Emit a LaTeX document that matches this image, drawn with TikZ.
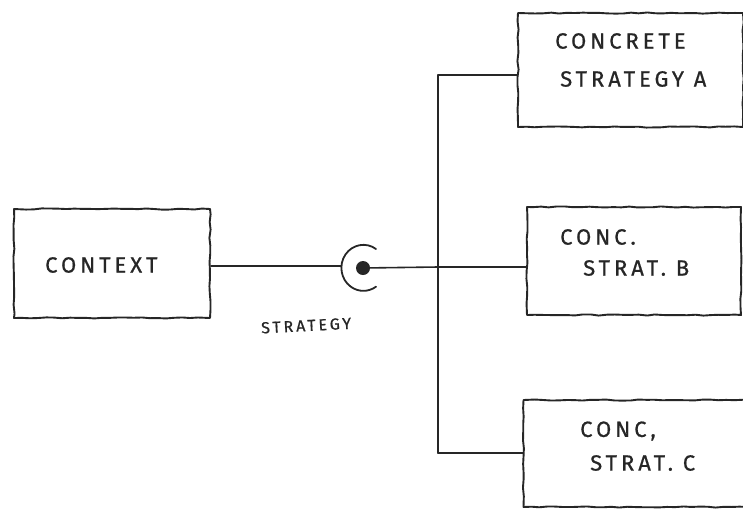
\documentclass[tikz,border=0pt]{standalone}
\usepackage{fontspec}
\newfontfamily\handfont[LetterSpace=18, FakeBold=0.8]{Fira Sans}
\usetikzlibrary{decorations.pathmorphing}
\begin{document}
\begin{tikzpicture}[x=1pt,y=-1pt,
  ink/.style={draw=black!85, line cap=round, line join=round},
  box/.style={ink, line width=1.9pt, rectangle, inner sep=0pt,
    decorate, decoration={random steps, segment length=8pt, amplitude=0.6pt}},
  wire/.style={ink, line width=1.6pt},
  hand/.style={font=\handfont\fontsize{22}{26}\selectfont, text=black!85,
    inner sep=0pt, anchor=west},
  smallhand/.style={hand, font=\handfont\fontsize{16}{19}\selectfont}]
\pgfmathsetseed{7}
\useasboundingbox (0,0) rectangle (743,512);

% boxes
\node[box, minimum width=196pt, minimum height=109pt] (ctx) at (112,263.5) {};
\node[box, minimum width=225pt, minimum height=114pt] (boxA) at (630.5,70) {};
\node[box, minimum width=214pt, minimum height=108pt] (boxB) at (634,261) {};
\node[box, minimum width=235pt, minimum height=107pt] (boxC) at (641,453.5) {};

% box texts
\node[hand] (tctx) at (45,265) {CONTEXT};
\node[hand] (tA1) at (555,41) {CONCRETE};
\node[hand] (tA2) at (560,79) {STRATEGY A};
\node[hand] (tB1) at (560,237) {CONC.};
\node[hand] (tB2) at (583,268) {STRAT. B};
\node[hand] (tC1) at (580,431) {CONC,};
\node[hand] (tC2) at (590,463) {STRAT. C};

% required interface: socket and ball
\node[circle, fill=black!85, inner sep=0pt, minimum size=14pt] (ball) at (363,268) {};
\draw[wire, line width=1.8pt] (376,249) arc[start angle=55, end angle=305, x radius=22pt, y radius=23pt] coordinate (sockBot);
\coordinate (sockW) at (341,266);
\node[smallhand, rotate=3] (tstrat) at (261,328) {STRATEGY};

% connectors
\coordinate (jA) at (438,75);
\coordinate (jB) at (438,267);
\coordinate (jC) at (438,453);
\draw[wire] (ctx.east |- sockW) -- (sockW);
\draw[wire] (ball) -- (jB) -- (jB -| boxB.west);
\draw[wire] (jA) -- (jC);
\draw[wire] (jA) -- (jA -| boxA.west);
\draw[wire] (jC) -- (jC -| boxC.west);
\end{tikzpicture}
\end{document}
